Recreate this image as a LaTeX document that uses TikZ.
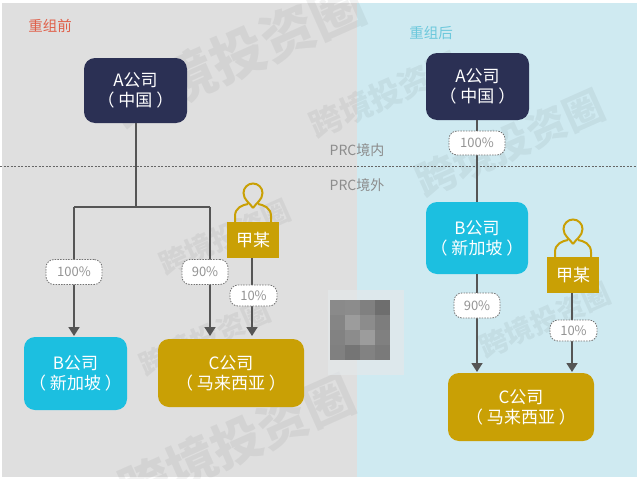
\documentclass[tikz,border=0pt]{standalone}
\usepackage{fontspec}
\setmainfont{Noto Sans CJK SC}
\usepackage{tikz}
\usetikzlibrary{arrows.meta}
\definecolor{navybox}{HTML}{2B3054}
\definecolor{cyanbox}{HTML}{1CBFE0}
\definecolor{goldbox}{HTML}{C9A005}
\definecolor{greybg}{HTML}{DFDFDF}
\definecolor{bluebg}{HTML}{CFEAF1}
\definecolor{linegrey}{HTML}{555555}
\definecolor{beforered}{HTML}{E0604A}
\definecolor{afterblue}{HTML}{6CC8DC}
\definecolor{halo}{HTML}{E4E8EA}
\tikzset{
  company/.style={draw=none,fill=#1,rounded corners=11pt,text=white,inner sep=0pt,align=center,
    font=\fontsize{17}{20}\selectfont},
  pct/.style={draw=black!55,line width=0.8pt,dash pattern=on 1.5pt off 1.2pt,fill=white,
    rounded corners=8pt,text=black!42,inner sep=0pt,font=\fontsize{13}{14}\selectfont},
  holder/.style={fill=goldbox,text=white,inner sep=0pt,minimum width=52pt,minimum height=36pt,
    font=\fontsize{17}{18}\selectfont},
  link/.style={draw=linegrey,line width=1.7pt},
  flow/.style={link,-{Triangle[width=11pt,length=9pt]},shorten >=0pt},
  zone/.style={text=black!45,font=\fontsize{14}{16}\selectfont},
  stamp/.style={text=black,text opacity=.05,rotate=24,font=\bfseries\fontsize{#1}{#1}\selectfont},
}
% person above a holder box, x y = head centre
\newcommand{\drawperson}[2]{
  \begin{scope}[shift={(#1,#2)},draw=goldbox,line width=2pt]
    \draw (0,15) .. controls (-3,10) and (-9.5,7) .. (-9.5,0) arc[start angle=180,end angle=360,radius=9.5]
      .. controls (9.5,7) and (3,10) .. (0,15);
    \draw (-18,29) -- (-18,23) .. controls (-18,15) and (-11,12) .. (-5,11);
    \draw (18,29) -- (18,23) .. controls (18,15) and (11,12) .. (5,11);
  \end{scope}
}
\begin{document}
\begin{tikzpicture}[auto,x=1pt,y=-1pt]
    \useasboundingbox (0,0) rectangle (637,479);
    \fill[white] (0,0) rectangle (637,479);
    \fill[greybg] (2,3) rectangle (357,477);
    \fill[bluebg] (357,3) rectangle (637,477);

    % watermarks
    \node[stamp=54] (wm1) at (238,55) {跨境投资圈};
    \node[stamp=28] (wm2) at (225,237) {跨境投资圈};
    \node[stamp=28] (wm3) at (205,338) {跨境投资圈};
    \node[stamp=50] (wm4) at (237,442) {跨境投资圈};
    \node[stamp=32] (wm5) at (385,95) {跨境投资圈};
    \node[stamp=40] (wm6) at (510,143) {跨境投资圈};
    \node[stamp=28] (wm7) at (545,320) {跨境投资圈};

    % blurred patch
    \fill[halo,opacity=.7] (328,290) rectangle (404,375);
    \foreach \row/\vals in {0/{54,55,50,43},1/{52,61,55,49},2/{51,55,61,50},3/{50,46,51,48}}
      \foreach \v [count=\c from 0] in \vals
        \fill[black!\fpeval{100-\v}] (330+15*\c,300+15*\row) rectangle (345+15*\c,315+15*\row);

    % border line
    \coordinate (borderL) at (0,166);
    \coordinate (borderR) at (637,166);
    \draw[draw=black!60,line width=0.8pt,dash pattern=on 2pt off 1.5pt] (borderL) -- (borderR);
    \node[zone] (inside) at (357,150) {PRC境内};
    \node[zone] (outside) at (357,185) {PRC境外};

    % before
    \node[text=beforered,font=\fontsize{14.5}{16}\selectfont] (before) at (50,26) {重组前};
    \node[company=navybox,minimum width=103pt,minimum height=65pt] (a1) at (135.5,90.5) {A公司\\（ 中国 ）};
    \node[company=cyanbox,minimum width=103pt,minimum height=73pt] (b1) at (75.5,373.5) {B公司\\（ 新加坡 ）};
    \node[company=goldbox,minimum width=146pt,minimum height=68pt] (c1) at (231,373) {C公司\\（ 马来西亚 ）};
    \node[holder] (p1) at (253,240) {甲某};
    \drawperson{253}{193}

    \coordinate (j1) at (136,207);
    \coordinate (l1) at (74,207);
    \coordinate (r1) at (210,207);
    \coordinate (t1) at (74,336);
    \coordinate (t2) at (210,336);
    \coordinate (t3) at (252,336);
    \path[link] (a1.south -| j1) edge (j1) (l1) edge (r1);
    \draw[flow] (l1) -- (t1);
    \draw[flow] (r1) -- (t2);
    \draw[flow] (p1.south -| t3) -- (t3);
    \node[pct,minimum width=56pt,minimum height=25pt] (q1) at (74,272) {100\%};
    \node[pct,minimum width=46pt,minimum height=25pt] (q2) at (205,272) {90\%};
    \node[pct,minimum width=47pt,minimum height=21pt] (q3) at (253.5,295.5) {10\%};

    % after
    \node[text=afterblue,font=\fontsize{14.5}{16}\selectfont] (after) at (431,33) {重组后};
    \node[company=navybox,minimum width=103pt,minimum height=67pt] (a2) at (477.5,86.5) {A公司\\（ 中国 ）};
    \node[company=cyanbox,minimum width=102pt,minimum height=72pt] (b2) at (477,238) {B公司\\（ 新加坡 ）};
    \node[company=goldbox,minimum width=146pt,minimum height=68pt] (c2) at (521,407) {C公司\\（ 马来西亚 ）};
    \node[holder] (p2) at (573,275) {甲某};
    \drawperson{573}{229}

    \coordinate (t4) at (477,372);
    \coordinate (t5) at (572,372);
    \path[link] (a2.south -| t4) edge (b2.north -| t4);
    \draw[flow] (b2.south -| t4) -- (t4);
    \draw[flow] (p2.south -| t5) -- (t5);
    \node[pct,minimum width=56pt,minimum height=24pt] (q4) at (477,143) {100\%};
    \node[pct,minimum width=46pt,minimum height=25pt] (q5) at (477,305.5) {90\%};
    \node[pct,minimum width=47pt,minimum height=21pt] (q6) at (573.5,330.5) {10\%};
\end{tikzpicture}
\end{document}
